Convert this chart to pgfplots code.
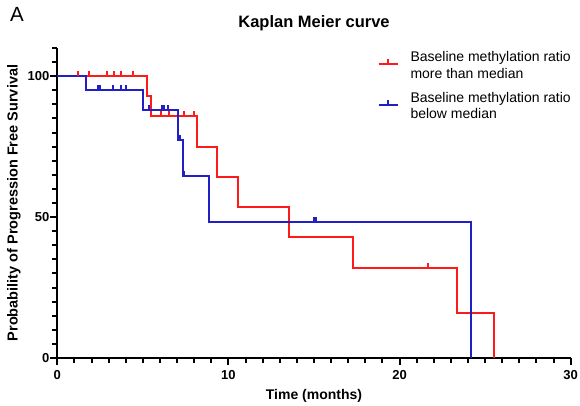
\documentclass[border=0pt]{standalone}
\usepackage{fontspec}
\setmainfont{Liberation Sans}
\usepackage{pgfplots}
\pgfplotsset{compat=1.18}
\definecolor{kmred}{HTML}{FF1A1A}
\definecolor{kmblue}{HTML}{2020C4}

% censor tick: a short stroke pointing up from the curve
\pgfdeclareplotmark{censor}{%
  \pgfpathmoveto{\pgfpointorigin}%
  \pgfpathlineto{\pgfpoint{0pt}{\pgfplotmarksize}}%
  \pgfusepathqstroke}

\pgfplotsset{
  km legend/.style={legend image code/.code={
    \draw[##1] (0pt,-3.5pt) -- (19pt,-3.5pt);
    \draw[##1] (9.5pt,-3.5pt) -- (9.5pt,1.5pt);}},
}

\begin{document}
\begin{tikzpicture}
\begin{axis}[
    scale only axis,
    width=513.4pt, height=310pt,
    xmin=0, xmax=30, ymin=0, ymax=110,
    clip=false,
    axis lines=left,
    axis line style={-, black, line width=2pt},
    xtick={0,10,20,30}, ytick={0,50,100},
    tick align=outside,
    major tick length=7pt,
    /pgf/number format/assume math mode=true,
    tick label style={font=\fontsize{13}{15}\selectfont\bfseries},
    xticklabel style={inner sep=5pt},
    yticklabel style={inner sep=0.8pt},
    title={Kaplan Meier curve},
    every axis title/.style={at={(0.5,1)}, anchor=base, yshift=21pt,
        font=\fontsize{16.5}{18}\selectfont\bfseries},
    xlabel={Time (months)},
    every axis x label/.style={at={(0.5,0)}, anchor=base, yshift=-41pt,
        font=\fontsize{14}{16}\selectfont\bfseries},
    ylabel={Probability of Progression Free Survival},
    every axis y label/.style={at={(-0.0843,0.5)}, anchor=center, rotate=90,
        font=\fontsize{14.5}{16}\selectfont\bfseries},
    legend cell align={left},
    legend style={
        draw=none, fill=none, inner sep=0pt,
        at={(0.6233,0.994)}, anchor=north west,
        font=\fontsize{14}{16.7}\selectfont,
        row sep=18.5pt,
        nodes={inner sep=0pt},
        /tikz/every odd column/.append style={column sep=12pt},
    },
]

% tick marks, drawn out from the axis lines
\pgfplotsinvokeforeach{0,10,20,30}{
    \draw[black, line width=2pt] (axis cs:#1,0) -- ++(0pt,-7pt);}
\pgfplotsinvokeforeach{1,2,3,4,5,6,7,8,9,11,12,13,14,15,16,17,18,19,21,22,23,24,25,26,27,28,29}{
    \draw[black, line width=2pt] (axis cs:#1,0) -- ++(0pt,-5pt);}
\pgfplotsinvokeforeach{0,50,100}{
    \draw[black, line width=2pt] (axis cs:0,#1) -- ++(-7pt,0pt);}
\pgfplotsinvokeforeach{5,10,15,20,25,30,35,40,45,55,60,65,70,75,80,85,90,95,105,110}{
    \draw[black, line width=2pt] (axis cs:0,#1) -- ++(-5pt,0pt);}

% step curves
\addplot[kmred, line width=2pt, const plot, forget plot] coordinates {
    (0,100) (5.26,92.9) (5.46,85.7) (8.14,75.0) (9.35,64.3) (10.53,53.6)
    (13.56,42.9) (17.26,32.1) (23.36,16.1) (25.52,0)
};
\addplot[kmblue, line width=2pt, const plot, forget plot] coordinates {
    (0,100) (1.66,95.0) (4.98,88.0) (7.07,77.3) (7.36,64.5) (8.88,48.3) (24.18,0)
};

% censored observations
\addplot[kmred, only marks, mark=censor, mark size=5pt,
    mark options={line width=1.8pt}, forget plot] coordinates {
    (1.23,100) (1.87,100) (2.89,100) (3.31,100) (3.72,100) (4.41,100)
    (6.06,85.7) (6.55,85.7) (7.40,85.7) (7.99,85.7) (21.68,32.1)
};
\addplot[kmblue, only marks, mark=censor, mark size=5pt,
    mark options={line width=1.8pt}, forget plot] coordinates {
    (2.40,95) (2.48,95) (3.27,95) (3.72,95) (4.02,95)
    (5.36,88) (6.14,88) (6.25,88) (6.45,88)
    (7.18,77.3) (7.42,64.5) (15.00,48.3) (15.12,48.3)
};

\addlegendimage{kmred, line width=2pt, km legend}
\addlegendentry{\begin{tabular}{@{}l@{}}Baseline methylation ratio\\more than median\end{tabular}}
\addlegendimage{kmblue, line width=2pt, km legend}
\addlegendentry{\begin{tabular}{@{}l@{}}Baseline methylation ratio\\below median\end{tabular}}

\end{axis}
\node[anchor=base west, inner sep=0pt, font=\fontsize{20.5}{22}\selectfont]
    at ([xshift=-47.3pt,yshift=336pt]current axis.south west) {A};
\pgfresetboundingbox
\path[use as bounding box] ([xshift=-57.3pt,yshift=-47pt]current axis.south west)
    rectangle ++(580pt,405pt);
\end{tikzpicture}
\end{document}
